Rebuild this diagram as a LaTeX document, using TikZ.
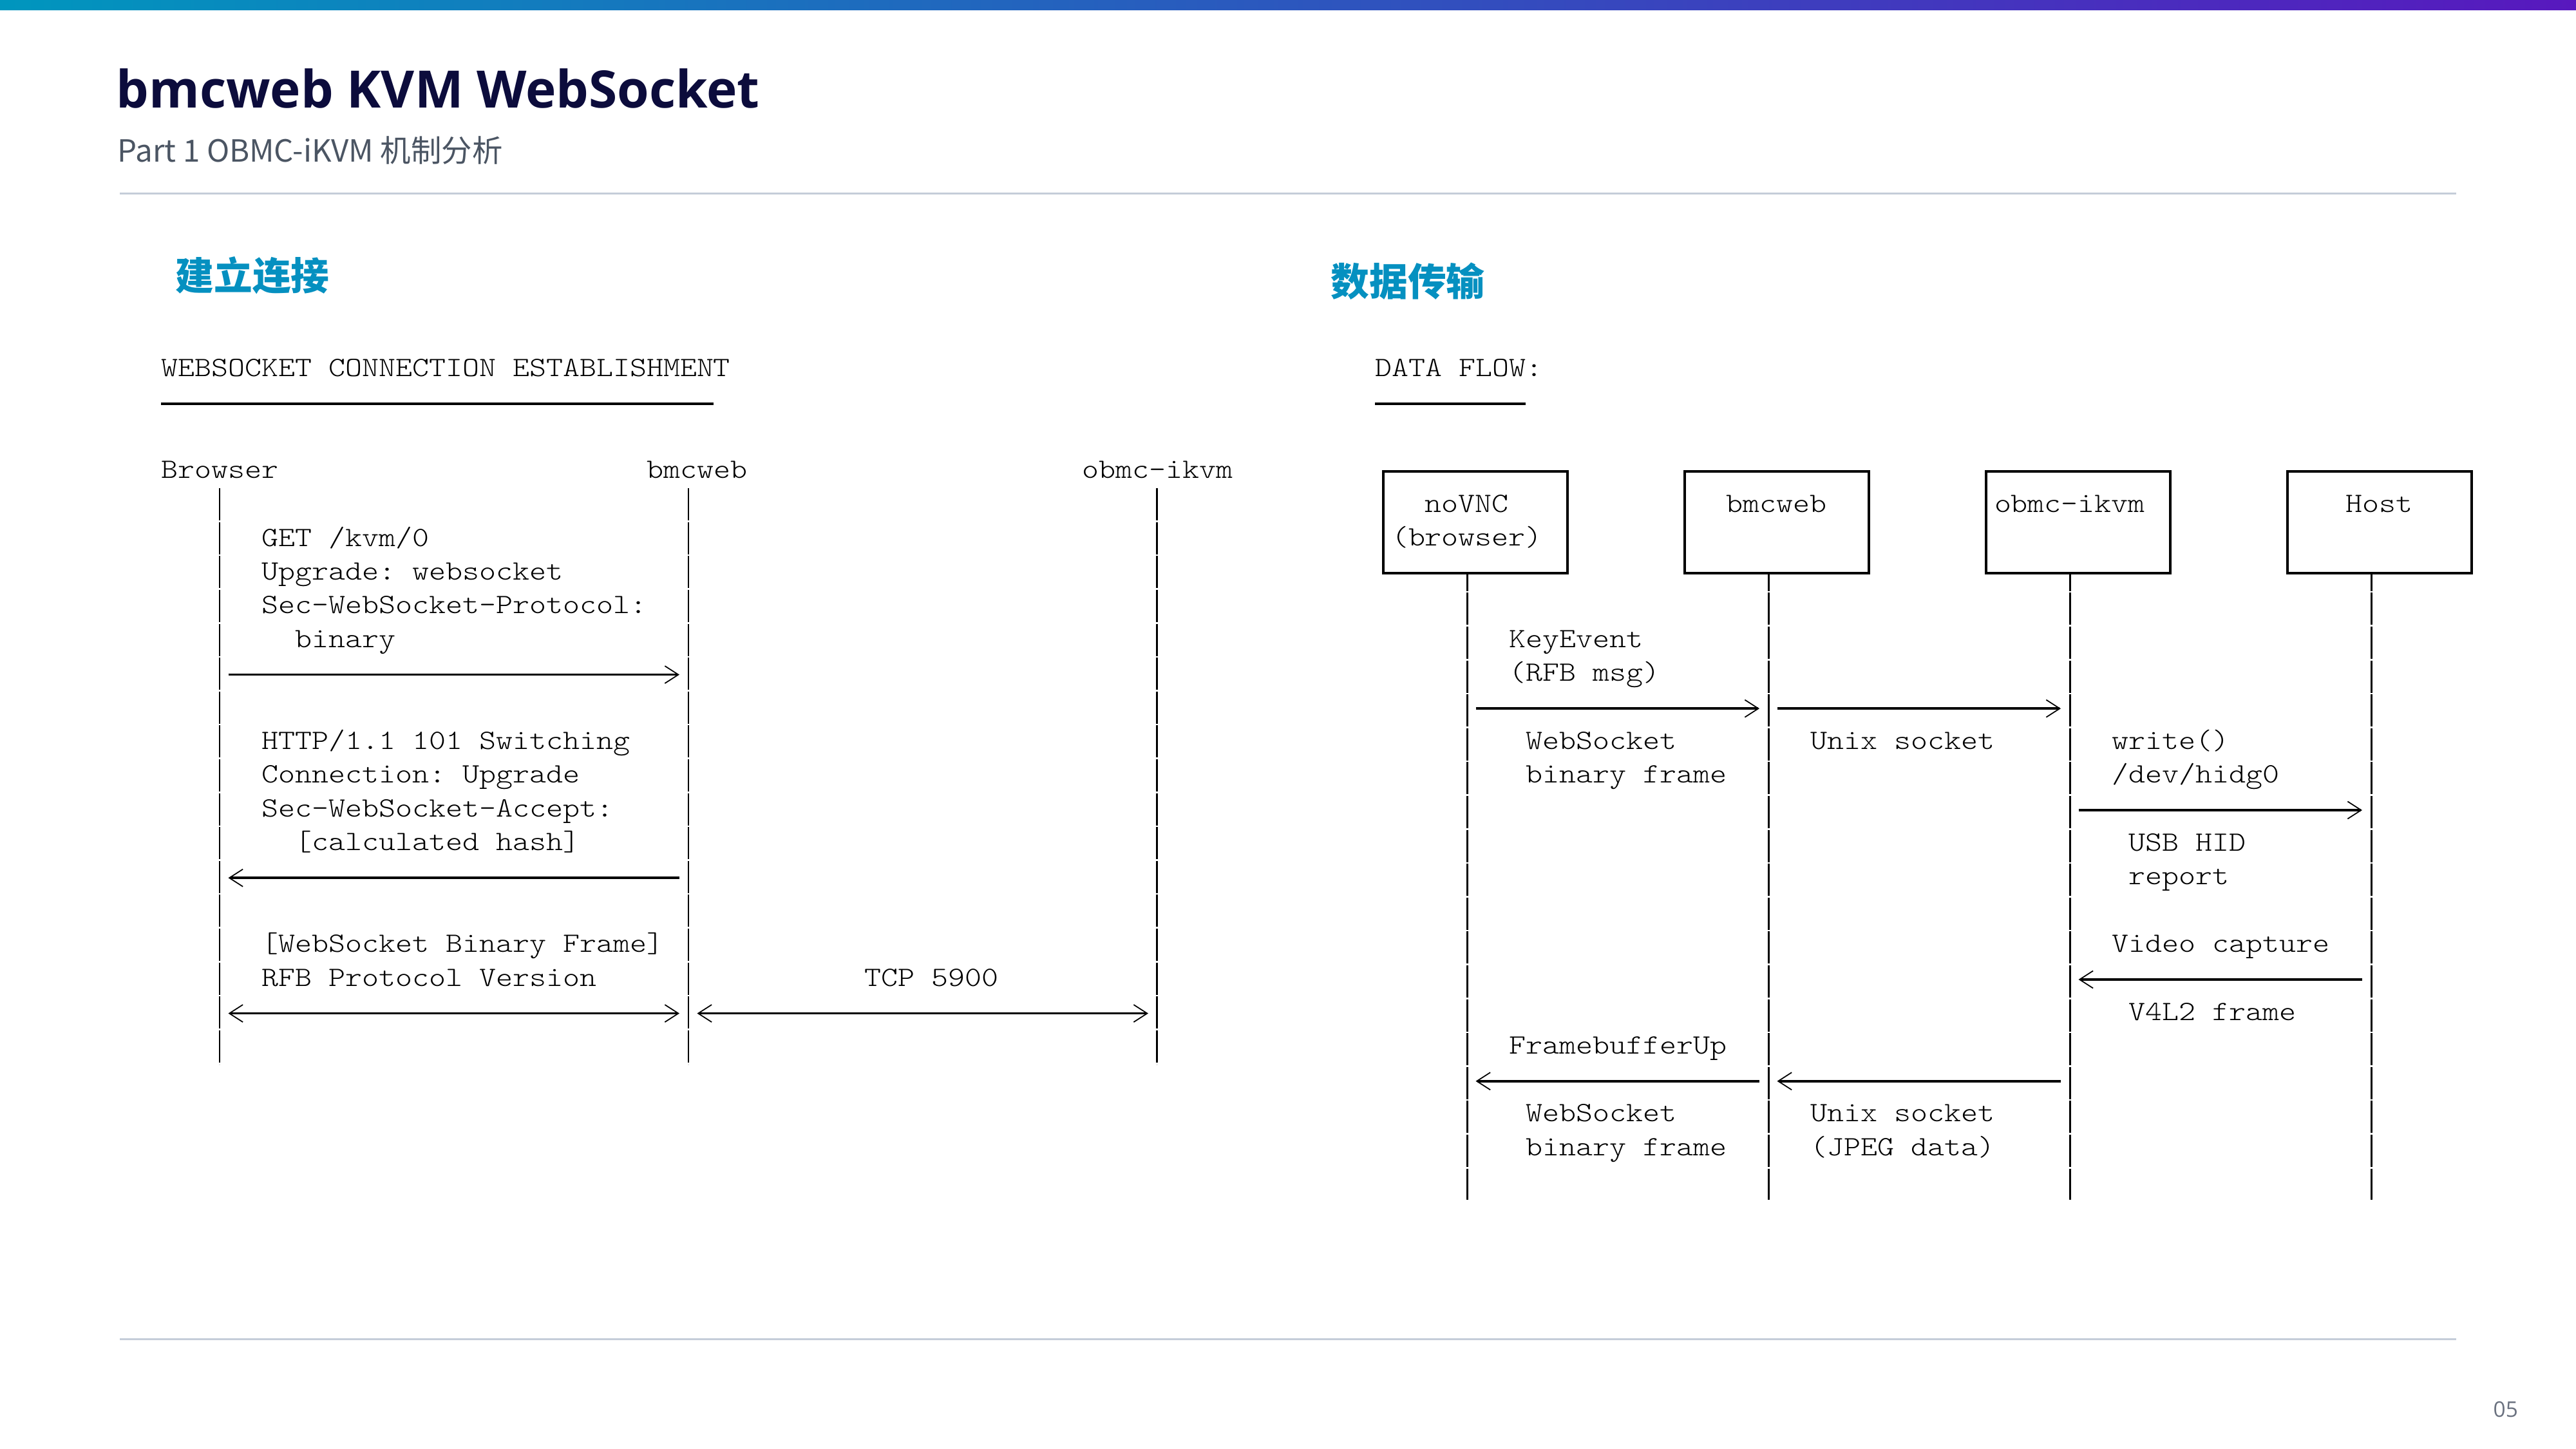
\documentclass[tikz,border=0pt]{standalone}
\usepackage{fontspec}
\usetikzlibrary{arrows.meta}
\setmainfont{Open Sans}
\newfontfamily\cjk{Noto Sans CJK SC}
\newfontfamily\mono{lmmonolt10-regular.otf}[FakeStretch=1.14]

\definecolor{barleft}{HTML}{0096BE}
\definecolor{barmid}{HTML}{3A70BC}
\definecolor{barright}{HTML}{5818BE}
\definecolor{titlenavy}{HTML}{0C0C3C}
\definecolor{headblue}{HTML}{0590C0}
\definecolor{subgray}{HTML}{4B5563}
\definecolor{rulegray}{HTML}{C5CDD9}
\definecolor{pagegray}{HTML}{6B7280}

\tikzset{
  asc/.style={font=\mono\fontsize{12.35pt}{14.9pt}\selectfont\frenchspacing, inner sep=0pt,
    anchor=west, align=left, execute at begin node=\strut, execute at end node=\strut},
  actor/.style={asc, anchor=center, draw, line width=1pt, text width=2.60cm,
    inner xsep=0.13cm, minimum width=2.86cm, minimum height=1.578cm},
  life/.style={line width=0.85pt, dash pattern=on 0.5cm off 0.026cm},
  msg/.style={line width=1pt, shorten <=0.135cm, shorten >=0.14cm},
  rule/.style={draw=rulegray, line width=0.03cm},
  heading/.style={font=\cjk\bfseries\fontsize{17pt}{20pt}\selectfont, text=headblue,
    inner sep=0pt, anchor=west},
  >={Straight Barb[length=0.21cm, width=0.27cm, line width=0.5pt]}
}

\begin{document}
\begin{tikzpicture}
\useasboundingbox (0,0) rectangle (40,-22.5);

% slide frame
\shade[left color=barleft, middle color=barmid, right color=barright] (0,0) rectangle (40,-0.16);
\node[anchor=base west, inner sep=0pt, text=titlenavy,
  font=\bfseries\fontsize{22.8pt}{28pt}\selectfont] (title) at (1.80,-1.68) {bmcweb KVM WebSocket};
\node[anchor=base west, inner sep=0pt, text=subgray,
  font=\cjk\fontsize{13.5pt}{16pt}\selectfont] (subtitle) at (1.82,-2.52) {Part 1 OBMC-iKVM 机制分析};
\coordinate (RW) at (1.86,-3.01);
\coordinate (RE) at (38.14,-3.01);
\draw[rule] (RW) -- (RE);
\coordinate (BW) at (1.86,-20.79);
\coordinate (BE) at (38.14,-20.79);
\draw[rule] (BW) -- (BE);
\node[anchor=base west, inner sep=0pt, text=pagegray,
  font=\fontsize{9.5pt}{11pt}\selectfont] (page) at (38.71,-22.00) {05};

\node[heading] (setup) at (2.72,-4.28) {建立连接};
\node[heading] (flow) at (20.66,-4.37) {数据传输};

% connection setup
\begin{scope}[shift={(2.50,-7.32)}, x=0.26cm, y=-0.526cm]
\node[asc] (hdrL) at (0,-3) {WEBSOCKET CONNECTION ESTABLISHMENT};
\coordinate (ulA) at (0,-2);
\coordinate (ulB) at (33,-2);
\draw[line width=1.1pt] (ulA) -- (ulB);

\node[asc] (bro) at (0,0) {Browser};
\node[asc] (bmcL) at (29,0) {bmcweb};
\node[asc] (ikvmL) at (55,0) {obmc-ikvm};
\coordinate (broT) at (3.5,0.5);
\coordinate (broB) at (3.5,17.5);
\coordinate (bmcLT) at (31.5,0.5);
\coordinate (bmcLB) at (31.5,17.5);
\coordinate (ikvmLT) at (59.5,0.5);
\coordinate (ikvmLB) at (59.5,17.5);
\draw[life] (broT) -- (broB);
\draw[life] (bmcLT) -- (bmcLB);
\draw[life] (ikvmLT) -- (ikvmLB);

\node[asc] (req) at (6,3.5) {\strut GET /kvm/0\\Upgrade: websocket\\Sec-WebSocket-Protocol:\\\hphantom{xx}binary\strut};
\draw[msg,->] (broT |- 0,6) -- (bmcLT |- 0,6);

\node[asc] (resp) at (6,9.5) {\strut HTTP/1.1 101 Switching\\Connection: Upgrade\\Sec-WebSocket-Accept:\\\hphantom{xx}[calculated hash]\strut};
\draw[msg,<-] (broT |- 0,12) -- (bmcLT |- 0,12);

\node[asc] (frame) at (6,14.5) {\strut[WebSocket Binary Frame]\\RFB Protocol Version\strut};
\node[asc] (tcp) at (42,15) {TCP 5900};
\draw[msg,<->] (broT |- 0,16) -- (bmcLT |- 0,16);
\draw[msg,<->] (bmcLT |- 0,16) -- (ikvmLT |- 0,16);
\end{scope}

% data flow
\begin{scope}[shift={(21.35,-7.32)}, x=0.26cm, y=-0.526cm]
\node[asc] (hdrR) at (0,-3) {DATA FLOW:};
\coordinate (ulC) at (0,-2);
\coordinate (ulD) at (9,-2);
\draw[line width=1.1pt] (ulC) -- (ulD);

\node[actor] (vnc) at (6,1.5) {\strut\hphantom{xx}noVNC\\(browser)\strut};
\node[actor] (bmcR) at (24,1.5) {\strut\hphantom{xx}bmcweb\\\strut};
\node[actor] (ikvmR) at (42,1.5) {\strut obmc-ikvm\\\strut};
\node[actor] (host) at (60,1.5) {\strut\hphantom{xxx}Host\\\strut};
\coordinate (vncB) at (5.5,21.5);
\coordinate (bmcRB) at (23.5,21.5);
\coordinate (ikvmRB) at (41.5,21.5);
\coordinate (hostB) at (59.5,21.5);
\draw[life, dash phase=0.237cm] (vnc.south -| vncB) -- (vncB);
\draw[life, dash phase=0.237cm] (bmcR.south -| bmcRB) -- (bmcRB);
\draw[life, dash phase=0.237cm] (ikvmR.south -| ikvmRB) -- (ikvmRB);
\draw[life, dash phase=0.237cm] (host.south -| hostB) -- (hostB);

% keyboard / mouse
\node[asc] (key) at (8,5.5) {\strut KeyEvent\\(RFB msg)\strut};
\draw[msg,->] (vncB |- 0,7) -- (bmcRB |- 0,7);
\draw[msg,->] (bmcRB |- 0,7) -- (ikvmRB |- 0,7);
\node[asc] (wsIn) at (9,8.5) {\strut WebSocket\\binary frame\strut};
\node[asc] (unixIn) at (26,8) {Unix socket};
\node[asc] (hid) at (44,8.5) {\strut write()\\/dev/hidg0\strut};
\draw[msg,->] (ikvmRB |- 0,10) -- (hostB |- 0,10);
\node[asc] (usb) at (45,11.5) {\strut USB HID\\report\strut};

% video
\node[asc] (cap) at (44,14) {Video capture};
\draw[msg,<-] (ikvmRB |- 0,15) -- (hostB |- 0,15);
\node[asc] (v4l) at (45,16) {V4L2 frame};
\node[asc] (fbu) at (8,17) {FramebufferUp};
\draw[msg,<-] (vncB |- 0,18) -- (bmcRB |- 0,18);
\draw[msg,<-] (bmcRB |- 0,18) -- (ikvmRB |- 0,18);
\node[asc] (wsOut) at (9,19.5) {\strut WebSocket\\binary frame\strut};
\node[asc] (unixOut) at (26,19.5) {\strut Unix socket\\(JPEG data)\strut};
\end{scope}

\end{tikzpicture}
\end{document}
